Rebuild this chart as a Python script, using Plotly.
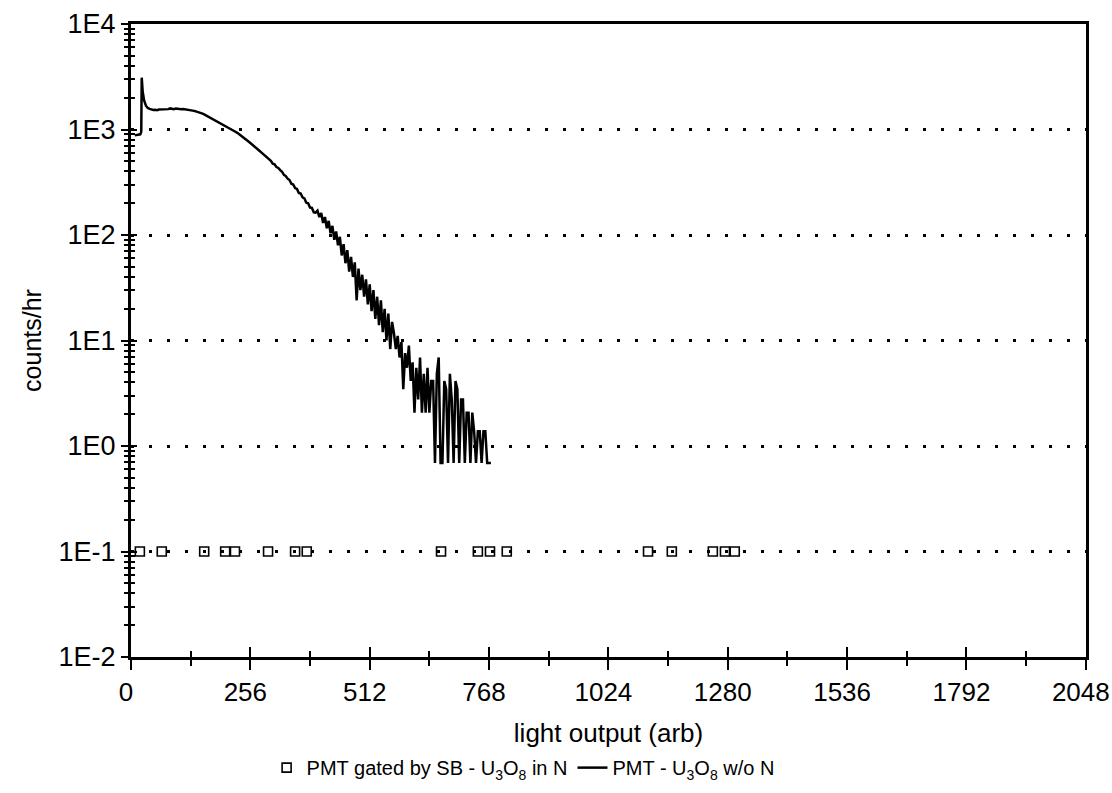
import plotly.graph_objects as go

# ---- data ----
channel = [8, 20, 22, 23, 25, 28, 32, 36,
           40, 44, 48, 52, 56, 60, 64, 68, 72, 76, 80, 84, 88, 92, 96, 100, 104, 108, 112, 116,
           120, 124, 128, 132, 136, 140, 144, 148, 152, 156, 160, 164, 168, 172, 176, 180, 184,
           188, 192, 196, 200, 204, 208, 212, 216, 220, 224, 228, 232, 236, 240, 244, 248, 252,
           256, 260, 264, 268, 272, 276, 280, 284, 288, 292, 296, 300, 304, 308, 312, 316, 320,
           324, 328, 332, 336, 340, 344, 348, 352, 356, 360, 364, 368, 372, 376, 380, 384, 388,
           392, 396,
           400, 404, 408, 412, 416, 420, 424, 428, 432, 436, 440, 444, 448, 452, 456, 460, 464,
           468, 472, 476, 480, 484, 488, 492, 496, 500, 504, 508, 512, 516, 520, 524, 528, 532,
           536, 540, 544, 548, 552, 556, 560,
           564, 568, 572, 576, 580, 584, 588, 592, 596, 600, 604, 608, 612, 616, 620, 624, 628,
           632, 636, 640, 644, 648, 652, 656, 660, 664, 668, 672, 676, 680, 684, 688, 692, 696,
           700, 704, 708, 712, 716, 720, 724, 728, 732, 736, 740, 744, 748, 752, 756, 760, 764,
           768, 772]
counts_per_hr = [880, 900, 950, 3100, 2300, 1900, 1680, 1600,
                 1570, 1545, 1530, 1540, 1525, 1545, 1550, 1535, 1565, 1570, 1560, 1585, 1575, 1560,
                 1580, 1565, 1570, 1555, 1560, 1545,
                 1550, 1530, 1525, 1510, 1500, 1485, 1460, 1450, 1420, 1400, 1370, 1345, 1300, 1275,
                 1245, 1225, 1195,
                 1175, 1145, 1120, 1100, 1078, 1055, 1032, 1005, 980, 952, 930, 898, 876, 848, 818,
                 792, 768,
                 745, 716, 695, 670, 645, 625, 604, 584, 560, 545, 520, 505, 475, 468, 440, 432, 412,
                 398, 372, 362, 342, 332, 306, 301, 278, 273, 250, 247, 227, 222, 202, 200, 182, 181,
                 164, 163,
                 170, 148, 162, 130, 148, 116, 136, 104, 122, 90, 108, 80, 96, 64, 82, 54, 72,
                 45, 62, 40, 55, 24, 48, 30, 42, 26, 38, 22, 34, 19, 30, 16, 26, 14,
                 24, 12, 20, 10, 18, 8.3, 15,
                 11.73, 8.28, 11.04, 6.9, 9.66, 3.45, 7.59, 5.52, 8.97, 4.14, 6.21, 2.07, 5.52, 2.76,
                 6.9, 2.07, 4.83,
                 2.07, 5.52, 2.07, 4.14, 4.14, 0.69, 4.83, 6.9, 0.69, 0.69, 4.14, 3.45, 0.69, 4.83,
                 2.76, 0.69, 4.14,
                 3.45, 0.69, 2.76, 2.76, 0.69, 2.07, 2.07, 0.69, 2.07, 1.38, 0.69, 1.38, 1.38, 0.69,
                 1.38, 1.38, 0.69,
                 0.69, 0.69]

gated_channel = [19, 66, 157, 202, 223, 294, 352, 377, 665, 744, 770, 806,
                 1109, 1160, 1248, 1274, 1295]
gated_counts = [0.1] * len(gated_channel)

x_major = [0, 256, 512, 768, 1024, 1280, 1536, 1792, 2048]
x_minor = [128, 384, 640, 896, 1152, 1408, 1664, 1920]
y_major = [0.01, 0.1, 1, 10, 100, 1000, 10000]
y_labels = ["1E-2", "1E-1", "1E0", "1E1", "1E2", "1E3", "1E4"]
y_minor = [m * d for d in [0.01, 0.1, 1, 10, 100, 1000] for m in range(2, 10)]

FONT = "Liberation Sans, Arial, Helvetica, sans-serif"
X_RANGE = [0, 2048.4]

fig = go.Figure()
fig.add_trace(go.Scatter(
    x=gated_channel, y=gated_counts, mode="markers",
    name="PMT gated by SB - U<sub>3</sub>O<sub>8</sub> in N",
    marker=dict(symbol="square-open", size=9, color="black", line=dict(width=1.6, color="black")),
    xaxis="x2", yaxis="y2",
))
fig.add_trace(go.Scatter(
    x=channel, y=counts_per_hr, mode="lines",
    name="PMT - U<sub>3</sub>O<sub>8</sub> w/o N",
    line=dict(color="black", width=2.5),
))

fig.update_layout(
    width=1112, height=793,
    paper_bgcolor="white", plot_bgcolor="white",
    margin=dict(l=131, r=26, t=24, b=136, autoexpand=False),
    font=dict(family=FONT, color="black", size=22),
    showlegend=True,
    legend=dict(orientation="h", x=0.142, xanchor="left",
                yref="container", y=0.032, yanchor="middle",
                font=dict(size=20, family=FONT), bgcolor="rgba(0,0,0,0)",
                itemwidth=30, tracegroupgap=0),
    xaxis=dict(
        range=X_RANGE, tickvals=x_major, ticks="outside", ticklen=10, tickwidth=2,
        tickcolor="black", showgrid=False, zeroline=False,
        showline=True, linecolor="black", linewidth=3, mirror=True,
        tickfont=dict(size=26, family=FONT), ticklabelshift=-5, ticklabeloverflow="allow",
        minor=dict(tickvals=x_minor, ticks="outside", ticklen=6, tickwidth=2, tickcolor="black",
                   showgrid=False),
        title=dict(text="light output (arb)", font=dict(size=26, family=FONT), standoff=25),
    ),
    yaxis=dict(
        type="log", range=[-2, 4], tickvals=y_major, ticktext=y_labels,
        ticks="outside", ticklen=7, tickwidth=2, tickcolor="black",
        showgrid=True, gridcolor="black", gridwidth=2.5, griddash="3px,15px",
        zeroline=False, showline=True, linecolor="black", linewidth=3, mirror=True,
        tickfont=dict(size=27, family=FONT),
        minor=dict(tickvals=y_minor, ticks="outside", ticklen=4, tickwidth=2, tickcolor="black",
                   showgrid=False),
        title=dict(text="counts/hr", font=dict(size=25, family=FONT), standoff=10),
    ),
    xaxis2=dict(
        overlaying="x", anchor="y2", range=X_RANGE, tickvals=x_major,
        ticks="inside", ticklen=10, tickwidth=2, tickcolor="black",
        showgrid=False, zeroline=False, showline=False, showticklabels=False,
        minor=dict(tickvals=x_minor, ticks="inside", ticklen=6, tickwidth=2, tickcolor="black",
                   showgrid=False),
    ),
    yaxis2=dict(
        overlaying="y", anchor="x2", type="log", range=[-2, 4], tickvals=y_major,
        ticks="inside", ticklen=6, tickwidth=2, tickcolor="black",
        showgrid=False, zeroline=False, showline=False, showticklabels=False,
        minor=dict(tickvals=y_minor, ticks="inside", ticklen=4, tickwidth=2, tickcolor="black",
                   showgrid=False),
    ),
)

fig.write_html(
    "out.html",
    config={"displayModeBar": False},
    post_script="document.body.style.margin='0';document.body.style.overflow='hidden';",
)
